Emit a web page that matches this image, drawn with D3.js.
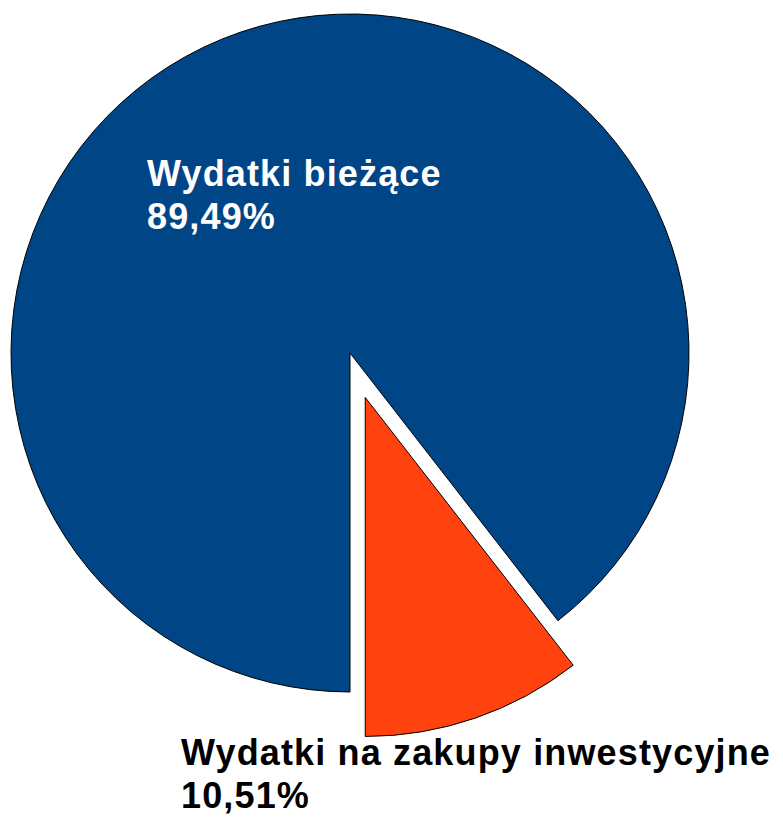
<!DOCTYPE html>
<html><head><meta charset="utf-8">
<script src="https://cdn.jsdelivr.net/npm/d3@7"></script>
<style>html,body{margin:0;padding:0;background:#fff;}svg{display:block;}</style>
</head><body>
<script>
const categories = ["Wydatki bieżące", "Wydatki na zakupy inwestycyjne"];
const values = [89.49, 10.51];
const valueLabels = ["89,49%", "10,51%"];
const colors = ["#004586", "#ff420e"];
const explode = [0, 47];

const W = 783, H = 817, cx = 350, cy = 353, R = 339;
const svg = d3.select("body").append("svg").attr("width", W).attr("height", H);
const pie = d3.pie().sort(null).startAngle(Math.PI).endAngle(3 * Math.PI);
const arcs = pie(values);
const arc = d3.arc().innerRadius(0).outerRadius(R);
const g = svg.append("g").attr("transform", `translate(${cx},${cy})`);
g.selectAll("path").data(arcs).join("path")
  .attr("d", arc)
  .attr("fill", (d, i) => colors[i])
  .attr("stroke", "#000").attr("stroke-width", 1)
  .attr("transform", (d, i) => {
    const m = (d.startAngle + d.endAngle) / 2;
    return `translate(${explode[i] * Math.sin(m)},${-explode[i] * Math.cos(m)})`;
  });

const labelPos = [{x: 147, y: 186, fill: "#fff"}, {x: 181, y: 765, fill: "#000"}];
categories.forEach((c, i) => {
  const t = svg.append("text").attr("x", labelPos[i].x).attr("y", labelPos[i].y)
    .attr("fill", labelPos[i].fill)
    .style("font-family", "'Liberation Sans', Arial, sans-serif")
    .style("font-weight", "bold").style("font-size", "36px")
    .style("letter-spacing", "1.15px");
  t.append("tspan").attr("x", labelPos[i].x).text(c);
  t.append("tspan").attr("x", labelPos[i].x).attr("dy", 43).text(valueLabels[i]);
});
</script>
</body></html>
